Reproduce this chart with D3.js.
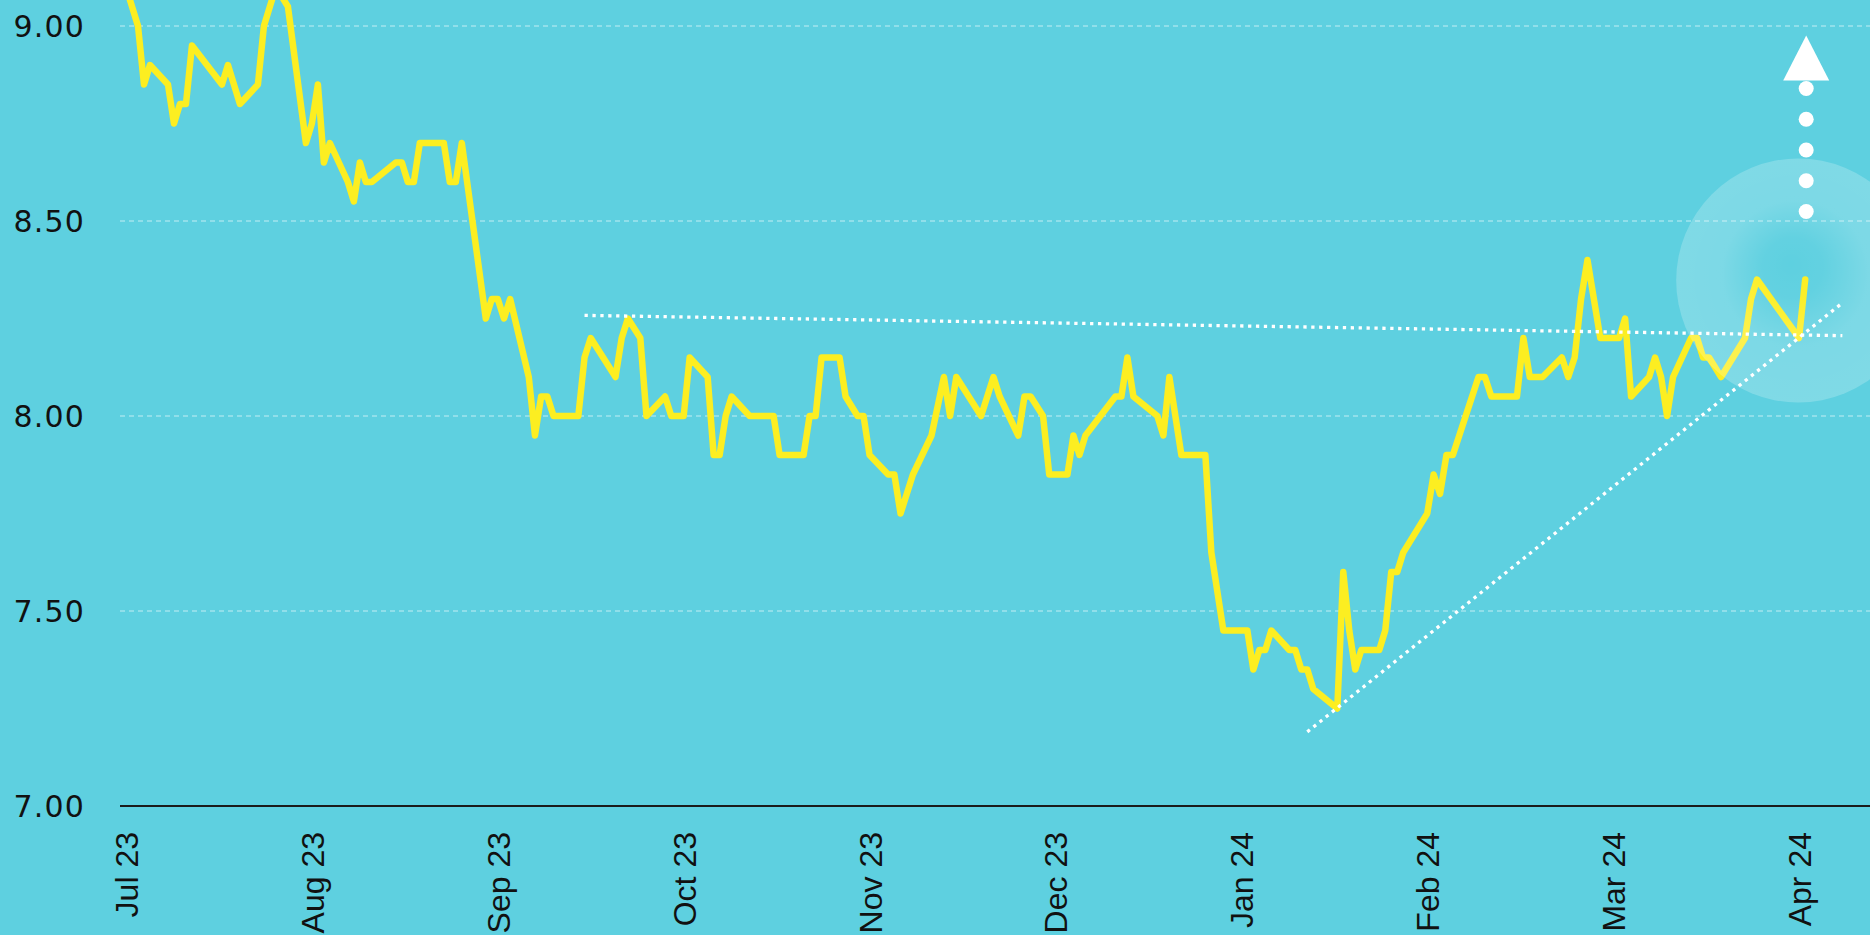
<!DOCTYPE html>
<html>
<head>
<meta charset="utf-8">
<script src="https://cdn.jsdelivr.net/npm/d3@7"></script>
<style>
  html, body { margin: 0; padding: 0; background: #5ED0E0; }
  svg { display: block; }
</style>
</head>
<body>
<svg id="chart" width="1870" height="935"></svg>
<script>
// ---------- data ----------
const tickLabels = ["Jul 23","Aug 23","Sep 23","Oct 23","Nov 23","Dec 23","Jan 24","Feb 24","Mar 24","Apr 24"];
const yTicks = [7.0, 7.5, 8.0, 8.5, 9.0];

const dates = [
  "2023-07-01","2023-07-03","2023-07-04","2023-07-05","2023-07-08","2023-07-09","2023-07-10","2023-07-11","2023-07-12",
  "2023-07-17","2023-07-18","2023-07-20","2023-07-23","2023-07-24","2023-07-26","2023-07-28","2023-07-31",
  "2023-08-01","2023-08-02","2023-08-03","2023-08-04","2023-08-07","2023-08-08","2023-08-09","2023-08-10","2023-08-11",
  "2023-08-15","2023-08-16","2023-08-17","2023-08-18","2023-08-19","2023-08-23","2023-08-24","2023-08-25","2023-08-26",
  "2023-08-30","2023-08-31",
  "2023-09-01","2023-09-02","2023-09-03","2023-09-06","2023-09-07","2023-09-08","2023-09-09","2023-09-10","2023-09-14",
  "2023-09-15","2023-09-16","2023-09-20","2023-09-21","2023-09-22","2023-09-24","2023-09-25","2023-09-28","2023-09-29",
  "2023-10-01","2023-10-02","2023-10-05","2023-10-06","2023-10-07","2023-10-08","2023-10-09","2023-10-12","2023-10-16",
  "2023-10-17","2023-10-21","2023-10-22","2023-10-23","2023-10-24","2023-10-27","2023-10-28","2023-10-30","2023-10-31",
  "2023-11-01","2023-11-04","2023-11-05","2023-11-06","2023-11-08","2023-11-11","2023-11-13","2023-11-14","2023-11-15",
  "2023-11-19","2023-11-21","2023-11-22","2023-11-25","2023-11-26","2023-11-27","2023-11-29","2023-11-30",
  "2023-12-03","2023-12-04","2023-12-05","2023-12-06","2023-12-11","2023-12-12","2023-12-13","2023-12-14","2023-12-18",
  "2023-12-19","2023-12-20","2023-12-22","2023-12-26","2023-12-27","2023-12-29",
  "2024-01-02","2024-01-03","2024-01-04","2024-01-05","2024-01-06","2024-01-09","2024-01-10","2024-01-11","2024-01-12",
  "2024-01-13","2024-01-17","2024-01-18","2024-01-19","2024-01-20","2024-01-21","2024-01-24","2024-01-25","2024-01-26",
  "2024-01-27","2024-01-28",
  "2024-02-01","2024-02-02","2024-02-03","2024-02-04","2024-02-05","2024-02-09","2024-02-10","2024-02-11","2024-02-15",
  "2024-02-16","2024-02-17","2024-02-19","2024-02-22","2024-02-23","2024-02-24","2024-02-25","2024-02-26","2024-02-28",
  "2024-03-02","2024-03-03","2024-03-04","2024-03-07","2024-03-08","2024-03-09","2024-03-10","2024-03-11","2024-03-14",
  "2024-03-15","2024-03-16","2024-03-17","2024-03-19","2024-03-23","2024-03-24","2024-03-25",
  "2024-04-01","2024-04-02"
];
const values = [
  9.10,9.00,8.85,8.90,8.85,8.75,8.80,8.80,8.95,
  8.85,8.90,8.80,8.85,9.00,9.10,9.05,8.70,
  8.75,8.85,8.65,8.70,8.60,8.55,8.65,8.60,8.60,
  8.65,8.65,8.60,8.60,8.70,8.70,8.60,8.60,8.70,
  8.25,8.30,
  8.30,8.25,8.30,8.10,7.95,8.05,8.05,8.00,8.00,
  8.15,8.20,8.10,8.20,8.25,8.20,8.00,8.05,8.00,
  8.00,8.15,8.10,7.90,7.90,8.00,8.05,8.00,8.00,
  7.90,7.90,8.00,8.00,8.15,8.15,8.05,8.00,8.00,
  7.90,7.85,7.85,7.75,7.85,7.95,8.10,8.00,8.10,
  8.00,8.10,8.05,7.95,8.05,8.05,8.00,7.85,
  7.85,7.95,7.90,7.95,8.05,8.05,8.15,8.05,8.00,
  7.95,8.10,7.90,7.90,7.65,7.45,
  7.45,7.35,7.40,7.40,7.45,7.40,7.40,7.35,7.35,
  7.30,7.25,7.60,7.45,7.35,7.40,7.40,7.45,7.60,
  7.60,7.65,
  7.75,7.85,7.80,7.90,7.90,8.10,8.10,8.05,8.05,
  8.20,8.10,8.10,8.15,8.10,8.15,8.30,8.40,8.20,
  8.20,8.25,8.05,8.10,8.15,8.10,8.00,8.10,8.20,
  8.20,8.15,8.15,8.10,8.20,8.30,8.35,
  8.20,8.35
];

// dotted trend lines (start / end)
const resistanceDates = ["2023-09-15","2024-04-08"];
const resistanceValues = [8.258, 8.206];
const supportDates = ["2024-01-12","2024-04-08"];
const supportValues = [7.19, 8.29];

// ---------- helpers ----------
// position of a date on the month axis: each month gets the same width
function monthPos(s) {
  const [yy, mm, dd] = s.split("-").map(Number);
  const dim = new Date(Date.UTC(yy, mm, 0)).getUTCDate();
  return (yy - 2023) * 12 + (mm - 7) + (dd - 1) / dim;
}

// ---------- layout ----------
const W = 1870, H = 935;
const svg = d3.select("#chart");
const BG = "#5ED0E0", YELLOW = "#FCEE21";

svg.append("rect").attr("width", W).attr("height", H).attr("fill", BG);

const x = d3.scaleLinear().domain([0, 9]).range([126, 1799]);
const y = d3.scaleLinear().domain([7, 9]).range([806, 26]);
const plotLeft = 120, plotRight = W;

// gridlines
svg.append("g").selectAll("line")
  .data(yTicks.filter(v => v !== 7.0))
  .join("line")
  .attr("x1", plotLeft).attr("x2", plotRight)
  .attr("y1", d => y(d)).attr("y2", d => y(d))
  .attr("stroke", "#ffffff").attr("stroke-opacity", 0.42)
  .attr("stroke-width", 1.5).attr("stroke-dasharray", "5,4");

// y axis labels
const yAxis = svg.append("g")
  .attr("transform", "translate(85,0)")
  .call(d3.axisLeft(y).tickValues(yTicks).tickFormat(d3.format(".2f")).tickSize(0).tickPadding(0));
yAxis.select(".domain").remove();
yAxis.selectAll("text")
  .attr("x", 0).attr("dy", "0.36em")
  .attr("font-family", "'DejaVu Sans', sans-serif")
  .attr("font-size", 30).attr("letter-spacing", "1.2px")
  .attr("fill", "#111");

// x axis
const xAxis = svg.append("g")
  .attr("transform", `translate(0,${y(7)})`)
  .call(d3.axisBottom(x).tickValues(d3.range(tickLabels.length)).tickFormat(i => tickLabels[i]).tickSize(0));
xAxis.select(".domain").remove();
xAxis.selectAll("text")
  .attr("transform", "rotate(-90)")
  .attr("text-anchor", "end")
  .attr("x", -26).attr("y", 0).attr("dy", "0.36em")
  .attr("font-family", "'Liberation Sans', Arial, sans-serif")
  .attr("font-size", 32)
  .attr("fill", "#111");

svg.append("line")
  .attr("x1", plotLeft).attr("x2", plotRight)
  .attr("y1", y(7)).attr("y2", y(7))
  .attr("stroke", "#1b1b1b").attr("stroke-width", 2);

// main line
const series = dates.map((d, i) => ({ t: monthPos(d), v: values[i] }));
const line = d3.line().x(d => x(d.t)).y(d => y(d.v));
svg.append("path")
  .datum(series)
  .attr("d", line)
  .attr("fill", "none")
  .attr("stroke", YELLOW)
  .attr("stroke-width", 6.5)
  .attr("stroke-linejoin", "round")
  .attr("stroke-linecap", "round");

// highlight circle (drawn over the line)
const last = series[series.length - 1];
const defs = svg.append("defs");
const grad = defs.append("radialGradient").attr("id", "glow")
  .attr("cx", "50%").attr("cy", "50%").attr("r", "50%").attr("fx", "47%").attr("fy", "43%");
grad.append("stop").attr("offset", "0%").attr("stop-color", "#ffffff").attr("stop-opacity", 0.0);
grad.append("stop").attr("offset", "25%").attr("stop-color", "#ffffff").attr("stop-opacity", 0.03);
grad.append("stop").attr("offset", "60%").attr("stop-color", "#ffffff").attr("stop-opacity", 0.19);
grad.append("stop").attr("offset", "100%").attr("stop-color", "#ffffff").attr("stop-opacity", 0.21);
svg.append("circle")
  .attr("cx", x(last.t) - 7).attr("cy", y(last.v) + 1)
  .attr("r", 122)
  .attr("fill", "url(#glow)");

// dotted trend lines
const trendLine = d3.line().x(d => x(monthPos(d[0]))).y(d => y(d[1]));
[[resistanceDates, resistanceValues], [supportDates, supportValues]].forEach(([ds, vs]) => {
  svg.append("path")
    .datum(ds.map((d, i) => [d, vs[i]]))
    .attr("d", trendLine)
    .attr("fill", "none")
    .attr("stroke", "#ffffff")
    .attr("stroke-width", 3.3)
    .attr("stroke-dasharray", "3.3,4.6");
});

// upward arrow annotation
const ax = x(last.t) + 1;
const ay = y(last.v);
const arrow = svg.append("g").attr("fill", "#ffffff");
d3.range(5).forEach(i => {
  arrow.append("circle").attr("cx", ax).attr("cy", ay - 68 - i * 30.75).attr("r", 7.5);
});
arrow.append("path")
  .attr("d", `M${ax},${ay - 244} L${ax + 23},${ay - 199} L${ax - 23},${ay - 199} Z`);
</script>
</body>
</html>
